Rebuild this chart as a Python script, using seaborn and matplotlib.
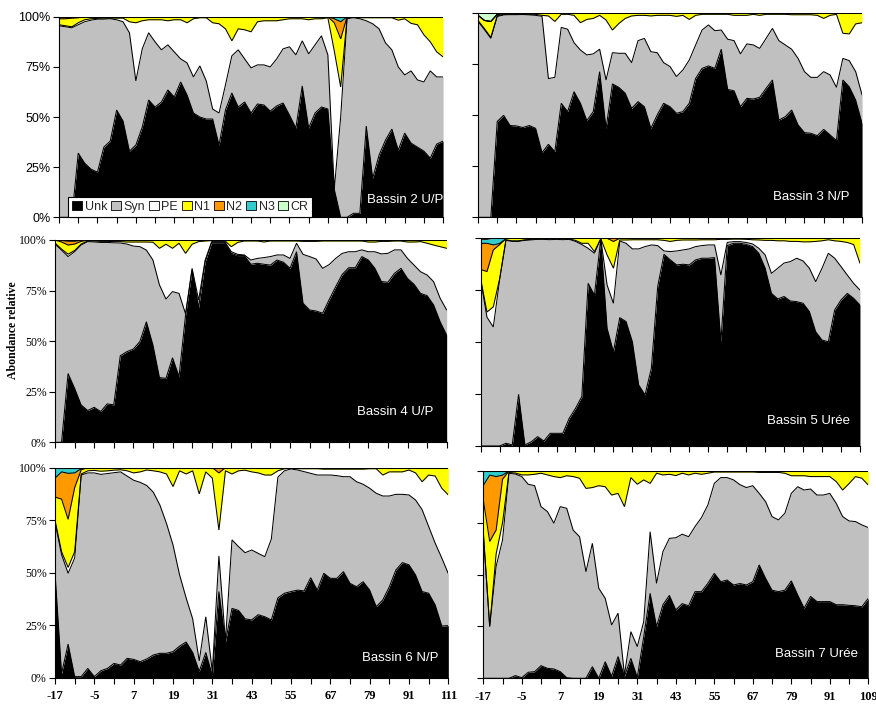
import numpy as np
import pandas as pd
import matplotlib
matplotlib.use("Agg")
import matplotlib.pyplot as plt
import seaborn as sns
from matplotlib.patches import Patch

sns.set_theme(style="ticks")
plt.rcParams["font.family"] = ["Liberation Sans", "DejaVu Sans"]

groups = ["Unk", "Syn", "PE", "N1", "N2", "N3", "CR"]
palette = ["#000000", "#c0c0c0", "#ffffff", "#ffff00", "#ff9900", "#33cccc", "#ccffcc"]

days_left = ["-17", "-5", "7", "19", "31", "43", "55", "67", "79", "91", "111"]
days_right = ["-17", "-5", "7", "19", "31", "43", "55", "67", "79", "91", "109"]

# ---------------- Bassin 2 U/P ----------------
b2_unk = [0, 0, 0, 32, 27, 24, 22.5, 35, 38, 53.5,
          48, 33, 36, 45, 58.5, 55, 57.5, 63.5, 60, 67.5,
          61, 52, 50, 49, 49, 36, 53.5, 62, 55, 57.5,
          52, 56.5, 56, 53, 55.5, 57, 51, 44.5, 65.5, 44.5,
          52, 55, 54, 14, 0, 0, 2, 2, 45.5, 19.5,
          31, 38.5, 44, 33.5, 42, 37, 35, 33, 29.5, 36.5,
          38]
b2_syn = [95.5, 95, 94.5, 64, 70.5, 74.3, 76.3, 63.8, 61, 45,
          49.5, 59, 32, 39, 33.5, 32.5, 26, 22.5, 22.5, 11.5,
          16, 18, 25.5, 19, 5, 16, 12.5, 18.5, 28.5, 21.5,
          22.5, 19.5, 20, 22, 23.5, 27, 34, 36.5, 22.5, 37,
          34, 35.5, 27, 0, 50, 99, 97.5, 97, 52.5, 77,
          63, 48.5, 39.5, 41.5, 29, 36, 33.5, 34.5, 43.5, 33.5,
          32]
b2_pe = [0.5, 0.5, 0.5, 1, 1, 0.7, 0.4, 0.5, 0.3, 0.8,
         1.8, 5.5, 29, 14, 6.5, 11, 15, 12, 16, 19.5,
         20, 29, 24, 31.5, 43, 44.5, 28, 7.5, 10.5, 14.5,
         18, 21.5, 22, 23, 19, 14.5, 14, 18, 11, 17,
         13, 8.5, 18.5, 69, 15, 0.5, 0.3, 0.5, 1.5, 3,
         5.5, 12.5, 16, 23.3, 28, 23.7, 27.5, 23.5, 14.5, 12.5,
         10]
b2_n1 = [3, 3.5, 4.3, 2.5, 1.5, 1, 0.8, 0.7, 0.7, 0.7,
         0.7, 2.5, 3, 2, 1.5, 1.5, 1.5, 2, 1.5, 1.5,
         3, 1, 0.5, 0.5, 3, 3.5, 6, 12, 6, 6.5,
         7.5, 2.5, 2, 2, 2, 1.5, 1, 1, 1, 1.5,
         1, 1, 0.5, 14, 24, 0.5, 0.2, 0.5, 0.5, 0.5,
         0.5, 0.5, 0.5, 1.7, 1, 3.3, 4, 9, 12.5, 17.5,
         20]
b2_n2 = [0.8, 0.8, 0.5, 0.3, 0, 0, 0, 0, 0, 0,
         0, 0, 0, 0, 0, 0, 0, 0, 0, 0,
         0, 0, 0, 0, 0, 0, 0, 0, 0, 0,
         0, 0, 0, 0, 0, 0, 0, 0, 0, 0,
         0, 0, 0, 2, 8.5, 0, 0, 0, 0, 0,
         0, 0, 0, 0, 0, 0, 0, 0, 0, 0,
         0]
b2_n3 = [0.2, 0.2, 0.2, 0.2, 0, 0, 0, 0, 0, 0,
         0, 0, 0, 0, 0, 0, 0, 0, 0, 0,
         0, 0, 0, 0, 0, 0, 0, 0, 0, 0,
         0, 0, 0, 0, 0, 0, 0, 0, 0, 0,
         0, 0, 0, 1, 2, 0, 0, 0, 0, 0,
         0, 0, 0, 0, 0, 0, 0, 0, 0, 0,
         0]
b2_cr = [0, 0, 0, 0, 0, 0, 0, 0, 0, 0,
         0, 0, 0, 0, 0, 0, 0, 0, 0, 0,
         0, 0, 0, 0, 0, 0, 0, 0, 0, 0,
         0, 0, 0, 0, 0, 0, 0, 0, 0, 0,
         0, 0, 0, 0, 0.5, 0, 0, 0, 0, 0,
         0, 0, 0, 0, 0, 0, 0, 0, 0, 0,
         0]

# ---------------- Bassin 3 N/P ----------------
b3_unk = [0, 0, 0, 47, 50, 45, 44.8, 44, 45, 43.6,
          31.7, 35.8, 32.2, 55.9, 51.8, 61.6, 55.9, 47.4, 51.8, 71.4,
          43.6, 65.4, 63.7, 60.8, 53.4, 56.7, 54.2, 43.6, 50.2, 55.9,
          54.2, 51, 51.8, 55.9, 68.1, 73, 74.2, 73, 82.4, 62.7,
          62, 54.2, 58.3, 58, 58.8, 63.2, 67.3, 47.7, 49.3, 52.6,
          45.3, 41.5, 41.2, 40, 43.1, 40.4, 37.6, 67.3, 64, 57.5,
          46]
b3_syn = [96, 92, 87.7, 51.4, 49.2, 54.3, 54.5, 55.4, 54.2, 55.4,
          66.8, 32.2, 36.4, 37.2, 40.4, 24, 26.1, 32.2, 28.3, 11,
          23.7, 15.3, 16.7, 19.6, 22.4, 29.9, 33.5, 37.6, 30.5, 19.9,
          19.7, 18, 20.4, 21.2, 16.4, 18.8, 20.1, 18.5, 9.4, 24.6,
          24.6, 25.9, 26.7, 26.5, 24, 24.5, 25.3, 38.9, 35.2, 29.8,
          32.6, 29.9, 27.4, 28.6, 28.3, 29.4, 26.1, 10.6, 12.8, 13.9,
          14]
b3_pe = [0.5, 0.5, 0.5, 0.4, 0.3, 0.2, 0.2, 0.1, 0.3, 0.5,
         0.5, 30.7, 27.4, 6.4, 7.3, 13.4, 13.4, 17.4, 17.4, 16.6,
         29.4, 11.1, 14.6, 17.1, 22.9, 12.4, 11.3, 17.5, 18.3, 23.2,
         25.1, 29.5, 26.8, 19.9, 14.5, 7.7, 5.2, 8, 7.7, 12.2,
         12.4, 18.9, 14, 15, 16.2, 11.8, 6.9, 12.9, 15, 16.9,
         21.4, 27.9, 30.7, 30.4, 26.1, 29.2, 35.8, 12.3, 13.1, 23.4,
         35.4]
b3_n1 = [2.5, 4, 7.8, 0.7, 0.5, 0.5, 0.5, 0.5, 0.5, 0.5,
         1, 1.3, 4, 0.5, 0.5, 1, 4.6, 3, 2.5, 1,
         3.3, 8.2, 5, 2.5, 1.3, 1, 1, 1.3, 1, 1,
         1, 1.5, 1, 3, 1, 0.5, 0.5, 0.5, 0.5, 0.5,
         1, 1, 1, 0.5, 1, 0.5, 0.5, 0.5, 0.5, 0.7,
         0.7, 0.7, 0.7, 1, 2.5, 1, 0.5, 9.8, 10.1, 5.2,
         4.6]
b3_n2 = [0, 0, 0, 0, 0, 0, 0, 0, 0, 0,
         0, 0, 0, 0, 0, 0, 0, 0, 0, 0,
         0, 0, 0, 0, 0, 0, 0, 0, 0, 0,
         0, 0, 0, 0, 0, 0, 0, 0, 0, 0,
         0, 0, 0, 0, 0, 0, 0, 0, 0, 0,
         0, 0, 0, 0, 0, 0, 0, 0, 0, 0,
         0]
b3_n3 = [0, 0, 0, 0, 0, 0, 0, 0, 0, 0,
         0, 0, 0, 0, 0, 0, 0, 0, 0, 0,
         0, 0, 0, 0, 0, 0, 0, 0, 0, 0,
         0, 0, 0, 0, 0, 0, 0, 0, 0, 0,
         0, 0, 0, 0, 0, 0, 0, 0, 0, 0,
         0, 0, 0, 0, 0, 0, 0, 0, 0, 0,
         0]
b3_cr = [1, 3.5, 4, 0.5, 0, 0, 0, 0, 0, 0,
         0, 0, 0, 0, 0, 0, 0, 0, 0, 0,
         0, 0, 0, 0, 0, 0, 0, 0, 0, 0,
         0, 0, 0, 0, 0, 0, 0, 0, 0, 0,
         0, 0, 0, 0, 0, 0, 0, 0, 0, 0,
         0, 0, 0, 0, 0, 0, 0, 0, 0, 0,
         0]

# ---------------- Bassin 4 U/P ----------------
b4_unk = [0, 0, 34, 26.7, 18.5, 15.7, 17.3, 15.2, 19, 18.5,
          42.8, 44.8, 46.1, 49.8, 59.6, 48.1, 32, 31.6, 41.8, 32.5,
          62.9, 85.2, 66.6, 89.3, 98.7, 98.7, 98.7, 93.4, 92.3, 92.3,
          88, 88.5, 88, 87.6, 90.1, 89, 86, 94.2, 68.7, 65.4,
          64.9, 63.8, 70.3, 76.9, 83, 86.3, 86.3, 91.8, 90.1, 86,
          79.7, 79.1, 83.5, 86, 81, 78.1, 73.6, 72.5, 67.9, 59.6,
          53]
b4_syn = [98, 95, 57.8, 67.5, 79, 83.5, 81.7, 83.6, 79.8, 80.1,
          55.7, 53.2, 50.9, 46.9, 35.4, 42, 45.8, 39.2, 32.7, 41.1,
          0.6, 0.8, 3.7, 0.7, 0.5, 0.5, 0.5, 0.8, 0.6, 0.3,
          2.1, 2.4, 3.3, 4.2, 2.5, 3.6, 4.9, 4.2, 24.2, 26.4,
          25.7, 22.2, 17.3, 14, 10.4, 7.9, 7.9, 3.3, 4.1, 8.2,
          13.7, 14.3, 11.6, 9.1, 9.9, 9.5, 10.7, 10.2, 11.5, 11.6,
          12.4]
b4_pe = [0.5, 0.5, 1.2, 0.6, 0.5, 0.3, 0.5, 0.5, 0.5, 0.6,
         0.7, 1, 2, 2.3, 4, 8.8, 18.1, 27.1, 21.4, 24.8,
         29.9, 11.9, 28.9, 9.5, 0.5, 0.5, 0.5, 2.5, 5.9, 6.9,
         9.4, 8.6, 7.7, 7.7, 6.9, 6.9, 8.6, 1.1, 6.4, 7.5,
         8.7, 13.5, 11.6, 8.6, 6.1, 5.3, 5.3, 4.4, 4.8, 4.8,
         6.2, 5.9, 4.4, 4.4, 8.1, 11.4, 14.9, 15.7, 18.1, 25.5,
         30.5]
b4_n1 = [1.5, 3.5, 4.5, 3.2, 1.3, 0.5, 0.5, 0.7, 0.7, 0.8,
         0.8, 1, 1, 1, 1, 1.1, 4.1, 2.1, 4.1, 1.6,
         6.6, 2.1, 0.8, 0.5, 0.3, 0.3, 0.3, 3.3, 1.2, 0.5,
         0.5, 0.5, 1, 0.5, 0.5, 0.5, 0.5, 0.5, 0.7, 0.7,
         0.7, 0.5, 0.5, 0.5, 0.5, 0.5, 0.5, 0.5, 1, 1,
         0.7, 0.7, 0.5, 0.5, 1, 1, 0.8, 1.6, 2.5, 3.3,
         4.1]
b4_n2 = [0, 0.8, 2, 1.5, 0.5, 0, 0, 0, 0, 0,
         0, 0, 0, 0, 0, 0, 0, 0, 0, 0,
         0, 0, 0, 0, 0, 0, 0, 0, 0, 0,
         0, 0, 0, 0, 0, 0, 0, 0, 0, 0,
         0, 0, 0, 0, 0, 0, 0, 0, 0, 0,
         0, 0, 0, 0, 0, 0, 0, 0, 0, 0,
         0]
b4_n3 = [0, 0, 0, 0, 0, 0, 0, 0, 0, 0,
         0, 0, 0, 0, 0, 0, 0, 0, 0, 0,
         0, 0, 0, 0, 0, 0, 0, 0, 0, 0,
         0, 0, 0, 0, 0, 0, 0, 0, 0, 0,
         0, 0, 0, 0, 0, 0, 0, 0, 0, 0,
         0, 0, 0, 0, 0, 0, 0, 0, 0, 0,
         0]
b4_cr = [0, 0.2, 0.5, 0.5, 0.2, 0, 0, 0, 0, 0,
         0, 0, 0, 0, 0, 0, 0, 0, 0, 0,
         0, 0, 0, 0, 0, 0, 0, 0, 0, 0,
         0, 0, 0, 0, 0, 0, 0, 0, 0, 0,
         0, 0, 0, 0, 0, 0, 0, 0, 0, 0,
         0, 0, 0, 0, 0, 0, 0, 0, 0, 0,
         0]

# ---------------- Bassin 5 Urée ----------------
b5_unk = [0, 0, 0, 0, 1.3, 0.5, 24.9, 0.5, 2, 4.5,
          2.4, 6.1, 6.1, 6.1, 13.3, 18.1, 23.8, 78.3, 72.7, 99.5,
          56.7, 45.4, 61.8, 59.9, 50.2, 29.4, 24.6, 37.4, 76.7, 92.3,
          89.6, 87.2, 87.5, 87.2, 89.6, 90.4, 90.4, 90.7, 50.2, 96.5,
          97.6, 97.6, 97.1, 96, 92.8, 85.6, 73.5, 70.8, 71.9, 69.8,
          69.5, 68.7, 64.7, 55, 51, 50.2, 65.5, 70.3, 73.5, 71.1,
          67.9]
b5_syn = [80, 62, 57.3, 80, 97.7, 98, 73.6, 98.5, 97.2, 95,
          97.1, 93.2, 93.4, 93.2, 86.2, 80.4, 73.2, 16.9, 20.1, 0.3,
          20.8, 23.3, 36.9, 37.7, 44.7, 65.5, 71.4, 59.4, 19.8, 1.6,
          4, 6.7, 6.9, 7.7, 6.4, 6.1, 6.4, 6.1, 32.1, 1.5,
          0.8, 0.8, 0.9, 1.3, 2.4, 6.4, 9.6, 14.8, 16.1, 19,
          20.9, 20.4, 20.9, 24.1, 34.6, 42.6, 24.9, 16.1, 8.8, 7.2,
          7.2]
b5_pe = [0.5, 2.5, 9.7, 0.5, 0.2, 0.3, 0.3, 0.3, 0.3, 0.2,
         0.2, 0.3, 0.2, 0.3, 0.2, 0.5, 0.6, 2.4, 0.8, 0,
         14.5, 16.9, 0.5, 1.6, 4.4, 4.4, 3.3, 2.5, 2.8, 5.1,
         4.9, 5.1, 4.8, 4.3, 3.2, 2.8, 2.5, 2.5, 17.2, 1.5,
         1.2, 1.2, 1.5, 2, 4, 7, 15.9, 13.2, 10.7, 9.7,
         8.1, 9.2, 12.7, 19.4, 13.2, 6.5, 8.4, 12.1, 15.7, 18.7,
         12.9]
b5_n1 = [4.5, 19.5, 27.4, 16.5, 0.6, 1.2, 1.2, 0.7, 0.5, 0.3,
         0.3, 0.4, 0.3, 0.4, 0.3, 1, 2.4, 2.4, 6.4, 0.2,
         8, 12.9, 0.8, 0.8, 0.7, 0.7, 0.7, 0.7, 0.7, 1,
         1.5, 1, 0.8, 0.8, 0.8, 0.7, 0.7, 0.7, 0.5, 0.5,
         0.4, 0.4, 0.5, 0.7, 0.8, 1, 1, 1.2, 1.2, 1.5,
         1.5, 1.7, 1.7, 1.5, 1.2, 0.7, 1.2, 1.5, 2, 3,
         12]
b5_n2 = [12.5, 13.6, 2.4, 0.5, 0, 0, 0, 0, 0, 0,
         0, 0, 0, 0, 0, 0, 0, 0, 0, 0,
         0, 1.5, 0, 0, 0, 0, 0, 0, 0, 0,
         0, 0, 0, 0, 0, 0, 0, 0, 0, 0,
         0, 0, 0, 0, 0, 0, 0, 0, 0, 0,
         0, 0, 0, 0, 0, 0, 0, 0, 0, 0,
         0]
b5_n3 = [2, 1.9, 3.2, 2.5, 0.2, 0, 0, 0, 0, 0,
         0, 0, 0, 0, 0, 0, 0, 0, 0, 0,
         0, 0, 0, 0, 0, 0, 0, 0, 0, 0,
         0, 0, 0, 0, 0, 0, 0, 0, 0, 0,
         0, 0, 0, 0, 0, 0, 0, 0, 0, 0,
         0, 0, 0, 0, 0, 0, 0, 0, 0, 0,
         0]
b5_cr = [0.5, 0.5, 0, 0, 0, 0, 0, 0, 0, 0,
         0, 0, 0, 0, 0, 0, 0, 0, 0, 0,
         0, 0, 0, 0, 0, 0, 0, 0, 0, 0,
         0, 0, 0, 0, 0, 0, 0, 0, 0, 0,
         0, 0, 0, 0, 0, 0, 0, 0, 0, 0,
         0, 0, 0, 0, 0, 0, 0, 0, 0, 0,
         0]

# ---------------- Bassin 6 N/P ----------------
b6_unk = [50, 2, 16, 0.5, 0.5, 4.4, 0.5, 3.3, 4.4, 6.8,
          6, 9.2, 8.7, 7.6, 8.9, 10.8, 11.6, 11.6, 12.4, 15,
          17, 12, 3, 12, 1, 41, 17, 33, 32, 28,
          27.5, 30, 29, 27.5, 38, 40.2, 41, 41.7, 41.3, 47.6,
          41.7, 49.7, 47.3, 47.3, 50.5, 44.9, 43.3, 45.7, 41.7, 33.8,
          37, 43.3, 51.3, 54.8, 53.7, 48.9, 41, 40.2, 34.6, 24.6,
          24.8]
b6_syn = [24, 56.6, 33.7, 56.5, 96, 93.1, 97, 93.5, 92.8, 90.8,
          92, 86.8, 85.3, 85.4, 82.6, 77.5, 70.6, 61.9, 50.8, 34,
          21, 16, 5, 17, 2, 17, 0.5, 32.6, 30.4, 31.5,
          33.3, 29.2, 28.6, 38.5, 57.5, 58.3, 58.4, 57.2, 56.8, 49.7,
          54.8, 46.8, 49.2, 48.9, 45.2, 50.8, 50, 46.4, 48.5, 54,
          49.5, 43.2, 36, 32.5, 33.3, 35.7, 39, 31.8, 29.4, 32.4,
          24.7]
b6_pe = [1, 1.4, 2.8, 3, 0.5, 1, 1.2, 1.5, 1.3, 1.2,
         1, 2.5, 3.5, 5, 7.4, 10.2, 15.8, 23.5, 27.8, 49.5,
         59, 70.5, 79.5, 69, 92, 12.3, 81, 31.4, 36.1, 39.3,
         37.2, 38.3, 38.9, 30.5, 3, 1, 0.3, 0.6, 1.4, 2.2,
         3, 2.8, 2.8, 3.1, 3.6, 3.6, 6, 7.2, 9.3, 11.7,
         10, 11.5, 10.7, 10.7, 11.9, 12.9, 13.3, 24.5, 32, 33.2,
         37.5]
b6_n1 = [11, 25, 22.9, 30.5, 2, 1.5, 1.3, 1.7, 1.5, 1.2,
         1, 1.5, 2.5, 2, 1.1, 1.5, 2, 3, 9, 1.5,
         3, 1.5, 12.5, 2, 5, 27.2, 1.5, 3, 1.5, 1.2,
         2, 2.5, 3.5, 3.5, 1.5, 0.5, 0.3, 0.5, 0.5, 0.5,
         0.5, 0.7, 0.7, 0.7, 0.7, 0.7, 0.7, 0.7, 0.5, 0.5,
         3.5, 2, 2, 2, 1.1, 2.5, 6.7, 3.5, 4, 9.8,
         13]
b6_n2 = [9, 13, 21.9, 7, 0.5, 0, 0, 0, 0, 0,
         0, 0, 0, 0, 0, 0, 0, 0, 0, 0,
         0, 0, 0, 0, 0, 2.5, 0, 0, 0, 0,
         0, 0, 0, 0, 0, 0, 0, 0, 0, 0,
         0, 0, 0, 0, 0, 0, 0, 0, 0, 0,
         0, 0, 0, 0, 0, 0, 0, 0, 0, 0,
         0]
b6_n3 = [5, 2, 2.7, 2.5, 0.5, 0, 0, 0, 0, 0,
         0, 0, 0, 0, 0, 0, 0, 0, 0, 0,
         0, 0, 0, 0, 0, 0, 0, 0, 0, 0,
         0, 0, 0, 0, 0, 0, 0, 0, 0, 0,
         0, 0, 0, 0, 0, 0, 0, 0, 0, 0,
         0, 0, 0, 0, 0, 0, 0, 0, 0, 0,
         0]
b6_cr = [0, 0, 0, 0, 0, 0, 0, 0, 0, 0,
         0, 0, 0, 0, 0, 0, 0, 0, 0, 0,
         0, 0, 0, 0, 0, 0, 0, 0, 0, 0,
         0, 0, 0, 0, 0, 0, 0, 0, 0, 0,
         0, 0, 0, 0, 0, 0, 0, 0, 0, 0,
         0, 0, 0, 0, 0, 0, 0, 0, 0, 0,
         0]

# ---------------- Bassin 7 Urée ----------------
b7_unk = [0, 0, 0, 0, 0, 1.3, 0.3, 2.9, 3.2, 6.1,
          4.8, 4.5, 3.2, 0.3, 0, 0, 0, 5.6, 0, 8,
          1, 10.5, 1, 9.6, 0.5, 20, 41, 25, 35.5, 40,
          33, 36, 35, 41.8, 41.8, 45.8, 50.6, 46.6, 47.4, 45,
          45.8, 45, 46.6, 54.7, 48.2, 42.5, 41.8, 42.5, 47, 40.2,
          33.8, 39.5, 37, 37, 37, 35.5, 35.5, 35.2, 35, 34.5,
          38.6]
b7_syn = [70, 25, 54, 66.7, 98.9, 97.2, 97, 90.7, 89.7, 76.7,
          75.6, 70.3, 79.6, 81.7, 71.5, 68.3, 51.4, 59.5, 43.4, 30.6,
          24.7, 20.9, 0.6, 12.9, 14.8, 7.3, 29.7, 20.8, 25.6, 27.5,
          34.8, 33.5, 33.3, 31.4, 35.7, 37.8, 43.4, 50.2, 49.4, 50.7,
          47.8, 47, 46.3, 34.5, 37, 35.5, 34.6, 37.1, 42.2, 52.2,
          57, 51.8, 51.4, 51.4, 52.2, 48.9, 42.5, 40.7, 40.6, 39.5,
          34.1]
b7_pe = [0.5, 0, 6, 8.3, 0.4, 0.5, 0.8, 4.5, 5.5, 16.1,
         17.7, 22.5, 14, 15.7, 25.8, 28.2, 40.2, 26.9, 49.5, 53.8,
         62.7, 57.8, 81.2, 74.3, 78.3, 68.4, 23.3, 53.1, 37, 30.9,
         30, 29.4, 29.8, 25.7, 20.9, 15.3, 5.5, 2.7, 2.7, 3.8,
         6.1, 7.5, 6.6, 10.1, 14.1, 21.3, 22.9, 19.3, 8.5, 5.3,
         6.9, 6, 8.9, 8.9, 8.1, 10.5, 12.8, 18, 21.7, 22.5,
         20.5]
b7_n1 = [15.5, 41, 11.5, 21, 0.7, 1, 1.9, 1.9, 1.6, 1.1,
         1.9, 2.7, 3.2, 2.3, 2.7, 3.5, 8.4, 8, 7.1, 7.6,
         11.6, 10.8, 17.2, 3.2, 6.4, 4.3, 6, 1.1, 1.9, 1.6,
         2.2, 1.1, 1.9, 1.1, 1.6, 1.1, 0.5, 0.5, 0.5, 0.5,
         0.5, 0.5, 0.5, 0.7, 0.7, 0.7, 0.7, 1.1, 2.3, 2.3,
         2.3, 2.7, 2.7, 2.7, 2.7, 5.1, 9.2, 6.1, 2.7, 3.5,
         6.8]
b7_n2 = [7, 32, 25.8, 2, 0, 0, 0, 0, 0, 0,
         0, 0, 0, 0, 0, 0, 0, 0, 0, 0,
         0, 0, 0, 0, 0, 0, 0, 0, 0, 0,
         0, 0, 0, 0, 0, 0, 0, 0, 0, 0,
         0, 0, 0, 0, 0, 0, 0, 0, 0, 0,
         0, 0, 0, 0, 0, 0, 0, 0, 0, 0,
         0]
b7_n3 = [7, 2, 2.7, 2, 0, 0, 0, 0, 0, 0,
         0, 0, 0, 0, 0, 0, 0, 0, 0, 0,
         0, 0, 0, 0, 0, 0, 0, 0, 0, 0,
         0, 0, 0, 0, 0, 0, 0, 0, 0, 0,
         0, 0, 0, 0, 0, 0, 0, 0, 0, 0,
         0, 0, 0, 0, 0, 0, 0, 0, 0, 0,
         0]
b7_cr = [0, 0, 0, 0, 0, 0, 0, 0, 0, 0,
         0, 0, 0, 0, 0, 0, 0, 0, 0, 0,
         0, 0, 0, 0, 0, 0, 0, 0, 0, 0,
         0, 0, 0, 0, 0, 0, 0, 0, 0, 0,
         0, 0, 0, 0, 0, 0, 0, 0, 0, 0,
         0, 0, 0, 0, 0, 0, 0, 0, 0, 0,
         0]

SANS = ["Liberation Sans", "DejaVu Sans"]
SERIF = ["Liberation Serif", "DejaVu Serif"]

panels = [
    dict(cols=[b2_unk, b2_syn, b2_pe, b2_n1, b2_n2, b2_n3, b2_cr], name="Bassin 2 U/P",
         rect=[0.0674, 0.6913, 0.4384, 0.2849], xmax=59.1, txt=(0.802, 0.085),
         yfont=SANS, days=None, legend=True),
    dict(cols=[b3_unk, b3_syn, b3_pe, b3_n1, b3_n2, b3_n3, b3_cr], name="Bassin 3 N/P",
         rect=[0.5457, 0.6913, 0.4384, 0.2898], xmax=60, txt=(0.768, 0.10),
         yfont=None, days=None, legend=False),
    dict(cols=[b4_unk, b4_syn, b4_pe, b4_n1, b4_n2, b4_n3, b4_cr], name="Bassin 4 U/P",
         rect=[0.0628, 0.3717, 0.4471, 0.2874], xmax=60, txt=(0.771, 0.15),
         yfont=SERIF, days=None, legend=False),
    dict(cols=[b5_unk, b5_syn, b5_pe, b5_n1, b5_n2, b5_n3, b5_cr], name="Bassin 5 Urée",
         rect=[0.5487, 0.3665, 0.4330, 0.2950], xmax=60, txt=(0.755, 0.12),
         yfont=None, days=None, legend=False),
    dict(cols=[b6_unk, b6_syn, b6_pe, b6_n1, b6_n2, b6_n3, b6_cr], name="Bassin 6 N/P",
         rect=[0.0628, 0.0374, 0.4490, 0.2983], xmax=60, txt=(0.780, 0.094),
         yfont=SERIF, days=days_left, legend=False),
    dict(cols=[b7_unk, b7_syn, b7_pe, b7_n1, b7_n2, b7_n3, b7_cr], name="Bassin 7 Urée",
         rect=[0.5517, 0.0365, 0.4395, 0.2945], xmax=60, txt=(0.758, 0.117),
         yfont=None, days=days_right, legend=False),
]

fig = plt.figure(figsize=(8.76, 7.04), dpi=100)
fig.patch.set_facecolor("white")

for p in panels:
    ax = fig.add_axes(p["rect"])
    df = pd.DataFrame(dict(zip(groups, p["cols"])))
    rel = df.div(df.sum(axis=1), axis=0) * 100
    x = np.arange(len(rel))
    ax.stackplot(x, rel.T.values, colors=palette, linewidth=0)
    tops = rel.cumsum(axis=1)
    for g in groups:
        ax.plot(x, tops[g].values, color="black", lw=0.75, solid_joinstyle="miter")

    ax.set_xlim(0, p["xmax"])
    ax.set_ylim(0, 100)
    ax.set_facecolor("white")
    ax.grid(False)
    sns.despine(ax=ax)
    for s in ("left", "bottom"):
        ax.spines[s].set_color("black")
        ax.spines[s].set_linewidth(0.8)

    ax.set_xticks(range(0, 61, 3))
    ax.set_yticks([0, 25, 50, 75, 100])
    ax.tick_params(axis="both", direction="out", length=4, width=0.8, color="black")

    if p["yfont"] is not None:
        size = 9 if p["yfont"] is SANS else 8.5
        ax.set_yticklabels([f"{v}%" for v in (0, 25, 50, 75, 100)],
                           family=p["yfont"], fontsize=size, color="black")
        ax.tick_params(axis="y", pad=2)
    else:
        ax.set_yticklabels([])

    if p["days"] is not None:
        labels = [p["days"][k // 2] if k % 2 == 0 else "" for k in range(21)]
        ax.set_xticklabels(labels, family=SERIF, fontweight="bold", fontsize=9, color="black")
        ax.tick_params(axis="x", pad=5)
    else:
        ax.set_xticklabels([])

    ax.text(p["txt"][0], p["txt"][1], p["name"], transform=ax.transAxes, color="white",
            fontsize=9.5, family=SANS, ha="left", va="center", clip_on=True)

    if p["legend"]:
        handles = [Patch(facecolor=c, edgecolor="black", linewidth=0.6) for c in palette]
        leg = ax.legend(handles, groups, loc="lower left", bbox_to_anchor=(0.024, 0.004),
                        ncol=7, frameon=True, fancybox=False,
                        handlelength=0.8, handleheight=0.8, handletextpad=0.2,
                        columnspacing=0.3, borderpad=0.3, borderaxespad=0.0,
                        prop={"family": SANS, "size": 9})
        leg.get_frame().set_edgecolor("black")
        leg.get_frame().set_linewidth(0.8)
        leg.get_frame().set_facecolor("white")
        leg.get_frame().set_alpha(1)

fig.text(0.015, 0.531, "Abondance relative", rotation=90, ha="center", va="center",
         family=SERIF, fontweight="bold", fontsize=8.5, color="black")

fig.savefig("out.png", dpi=100, facecolor="white")
